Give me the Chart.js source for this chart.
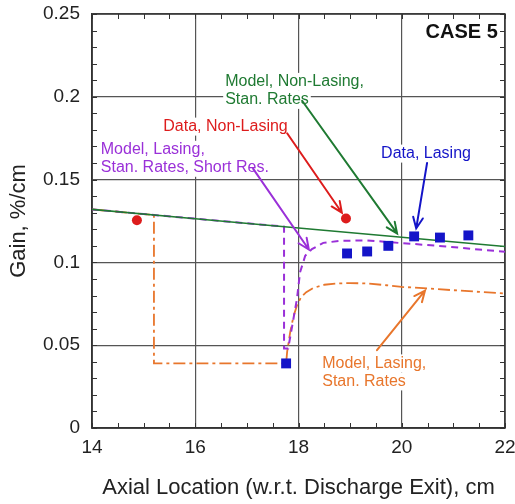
<!DOCTYPE html>
<html>
<head>
<meta charset="utf-8">
<script src="https://cdn.jsdelivr.net/npm/chart.js@4/dist/chart.umd.min.js"></script>
<style>
html, body { margin: 0; padding: 0; background: #fff; }
</style>
</head>
<body>
<canvas id="gainchart" width="515" height="504"></canvas>
<script>
// tick labels
var xTickLabels = ['14', '16', '18', '20', '22'];
var yTickLabels = ['0', '0.05', '0.1', '0.15', '0.2', '0.25'];

// measured points
var redX = [14.87, 18.92];
var redY = [0.1255, 0.1265];
var blueX = [17.76, 18.94, 19.33, 19.74, 20.24, 20.74, 21.29];
var blueY = [0.039, 0.1054, 0.1066, 0.110, 0.1157, 0.115, 0.1163];

// model curves
var greenX = [14, 16, 18, 20, 22];
var greenY = [0.132, 0.1264, 0.1208, 0.1152, 0.1096];
var purpleX = [14, 17.72, 17.72, 17.8, 17.88, 17.97, 18.03, 18.13, 18.26, 18.48, 18.8, 19.33, 19.97, 20.5, 20.88, 21.4, 22];
var purpleY = [0.132, 0.1216, 0.048, 0.048, 0.062, 0.078, 0.094, 0.104, 0.108, 0.1118, 0.1130, 0.1133, 0.1117, 0.1105, 0.1096, 0.108, 0.1064];
var orangeX = [14, 15.2, 15.2, 17.76, 17.78, 17.84, 17.9, 17.97, 18.05, 18.15, 18.28, 18.5, 18.75, 19.0, 19.33, 19.7, 20.0, 20.5, 21.0, 21.5, 22];
var orangeY = [0.132, 0.1286, 0.039, 0.039, 0.046, 0.058, 0.067, 0.074, 0.079, 0.082, 0.0845, 0.0865, 0.0873, 0.0875, 0.0873, 0.0862, 0.0852, 0.0843, 0.0832, 0.0822, 0.0812];

var GREEN = '#1f7a32', RED = '#dd1c1c', PURPLE = '#9a30d8', BLUE = '#1414c8', ORANGE = '#e8762c';
var FONT = '"Liberation Sans", Arial, sans-serif';

function pts(xs, ys) {
    return xs.map(function (x, i) { return { x: x, y: ys[i] }; });
}

// callouts, in axis units
var notes = [
    { lines: ['Model, Non-Lasing,', 'Stan. Rates'], color: GREEN, x: 16.58, y: 0.209, from: [18.07, 0.1976], to: [19.91, 0.1175] },
    { lines: ['Data, Non-Lasing'], color: RED, x: 15.38, y: 0.182, from: [17.78, 0.178], to: [18.84, 0.130] },
    { lines: ['Model, Lasing,', 'Stan. Rates, Short Res.'], color: PURPLE, x: 14.17, y: 0.168, from: [17.12, 0.1566], to: [18.2, 0.1078] },
    { lines: ['Data, Lasing'], color: BLUE, x: 19.6, y: 0.1657, from: [20.49, 0.160], to: [20.28, 0.1205] },
    { lines: ['Model, Lasing,', 'Stan. Rates'], color: ORANGE, x: 18.46, y: 0.039, from: [19.52, 0.047], to: [20.45, 0.083] }
];

var overlay = {
    id: 'overlay',
    beforeDatasetsDraw: function (chart) {
        var ctx = chart.ctx, xs = chart.scales.x, ys = chart.scales.y, a = chart.chartArea;
        ctx.save();
        ctx.strokeStyle = '#333';
        ctx.lineWidth = 1;
        ctx.beginPath();
        for (var i = 0; i <= 16; i++) {
            var px = Math.round(xs.getPixelForValue(14 + i * 0.5)) + 0.5;
            ctx.moveTo(px, a.bottom); ctx.lineTo(px, a.bottom - 5);
            ctx.moveTo(px, a.top); ctx.lineTo(px, a.top + 5);
        }
        for (var j = 0; j <= 25; j++) {
            var py = Math.round(ys.getPixelForValue(j * 0.01)) + 0.5;
            ctx.moveTo(a.left, py); ctx.lineTo(a.left + 5, py);
            ctx.moveTo(a.right, py); ctx.lineTo(a.right - 5, py);
        }
        ctx.stroke();
        ctx.lineWidth = 1.5;
        ctx.strokeRect(a.left, a.top, a.right - a.left, a.bottom - a.top);

        ctx.font = '16px ' + FONT;
        ctx.textBaseline = 'middle';
        notes.forEach(function (n) {
            var x0 = xs.getPixelForValue(n.x), y0 = ys.getPixelForValue(n.y);
            n.lines.forEach(function (t, k) {
                var w = ctx.measureText(t).width;
                ctx.fillStyle = '#fff';
                ctx.fillRect(x0 - 2, y0 + k * 18 - 9, w + 4, 18);
                ctx.fillStyle = n.color;
                ctx.fillText(t, x0, y0 + k * 18);
            });
        });

        ctx.font = 'bold 20px ' + FONT;
        ctx.fillStyle = '#111';
        ctx.textAlign = 'right';
        ctx.fillText('CASE 5', xs.getPixelForValue(21.86), ys.getPixelForValue(0.239));
        ctx.restore();
    },
    afterDatasetsDraw: function (chart) {
        var ctx = chart.ctx, xs = chart.scales.x, ys = chart.scales.y;
        ctx.save();
        ctx.lineWidth = 2;
        ctx.lineCap = 'round';
        notes.forEach(function (n) {
            var x1 = xs.getPixelForValue(n.from[0]), y1 = ys.getPixelForValue(n.from[1]);
            var x2 = xs.getPixelForValue(n.to[0]), y2 = ys.getPixelForValue(n.to[1]);
            var ang = Math.atan2(y2 - y1, x2 - x1), L = 12, s = 0.42;
            ctx.strokeStyle = n.color;
            ctx.beginPath();
            ctx.moveTo(x1, y1); ctx.lineTo(x2, y2);
            ctx.moveTo(x2 - L * Math.cos(ang - s), y2 - L * Math.sin(ang - s));
            ctx.lineTo(x2, y2);
            ctx.lineTo(x2 - L * Math.cos(ang + s), y2 - L * Math.sin(ang + s));
            ctx.stroke();
        });
        ctx.restore();
    }
};

var gainctx = document.getElementById('gainchart').getContext('2d');
var gainchart = new Chart(gainctx, {
    type: 'scatter',
    data: {
        datasets: [{
            label: 'Data, Non-Lasing',
            data: pts(redX, redY),
            pointStyle: 'circle',
            pointRadius: 5,
            backgroundColor: RED,
            borderColor: RED,
            borderWidth: 0
        }, {
            label: 'Data, Lasing',
            data: pts(blueX, blueY),
            pointStyle: 'rect',
            pointRadius: 7,
            backgroundColor: BLUE,
            borderColor: BLUE,
            borderWidth: 0
        }, {
            label: 'Model, Non-Lasing, Stan. Rates',
            data: pts(greenX, greenY),
            showLine: true,
            pointRadius: 0,
            borderColor: GREEN,
            borderWidth: 1.6
        }, {
            label: 'Model, Lasing, Stan. Rates, Short Res.',
            data: pts(purpleX, purpleY),
            showLine: true,
            pointRadius: 0,
            borderColor: PURPLE,
            borderWidth: 2,
            borderDash: [7, 5]
        }, {
            label: 'Model, Lasing, Stan. Rates',
            data: pts(orangeX, orangeY),
            showLine: true,
            pointRadius: 0,
            borderColor: ORANGE,
            borderWidth: 1.8,
            borderDash: [12, 4, 3, 4]
        }]
    },
    options: {
        responsive: false,
        animation: false,
        layout: { padding: { left: 0, top: 14, right: 10, bottom: 0 } },
        plugins: { legend: { display: false }, tooltip: { enabled: false } },
        scales: {
            x: {
                type: 'linear', min: 14, max: 22,
                ticks: {
                    stepSize: 2, autoSkip: false, maxRotation: 0, padding: 8, color: '#222',
                    font: { size: 19, family: FONT },
                    callback: function (v, i) { return xTickLabels[i]; }
                },
                grid: { color: '#555', lineWidth: 1.2, drawTicks: false },
                border: { color: '#333', width: 1.5 },
                title: {
                    display: true, text: 'Axial Location (w.r.t. Discharge Exit), cm',
                    color: '#222', font: { size: 22, family: FONT }, padding: { top: 0, bottom: 3 }
                },
                afterFit: function (s) { s.height = 76; s.paddingLeft = 0; s.paddingRight = 0; }
            },
            y: {
                type: 'linear', min: 0, max: 0.25,
                ticks: {
                    stepSize: 0.05, padding: 12, color: '#222',
                    font: { size: 19, family: FONT },
                    callback: function (v, i) { return yTickLabels[i]; }
                },
                grid: { color: '#555', lineWidth: 1.2, drawTicks: false },
                border: { color: '#333', width: 1.5 },
                title: {
                    display: true, text: 'Gain, %/cm',
                    color: '#222', font: { size: 22, family: FONT }, padding: { top: 6, bottom: 0 }
                },
                afterFit: function (s) { s.width = 92; s.paddingTop = 0; s.paddingBottom = 0; }
            }
        }
    },
    plugins: [overlay]
});
</script>
</body>
</html>
